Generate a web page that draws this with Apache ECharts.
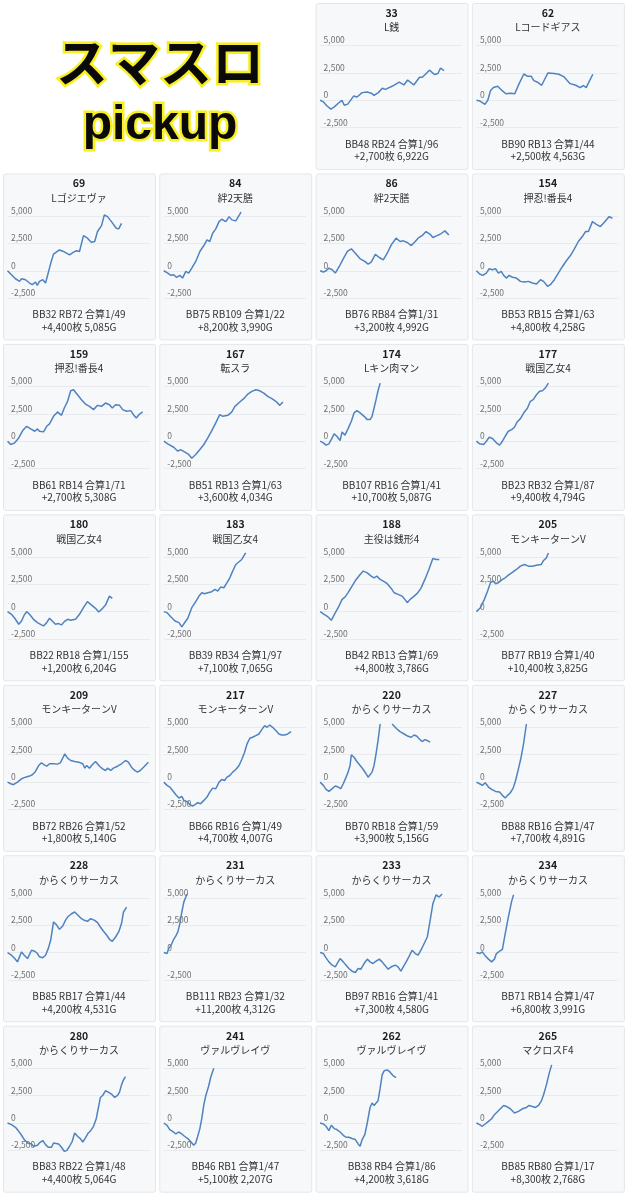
<!DOCTYPE html>
<html><head><meta charset="utf-8">
<script src="https://cdn.jsdelivr.net/npm/echarts@6/dist/echarts.min.js"></script>
<style>html,body{margin:0;padding:0;background:#fff}#c{width:627px;height:1200px}</style>
</head><body><div id="c"></div>
<script>
// ---- data ----
const panelIds   = ['33','62','69','84','86','154','159','167','174','177','180','183','188','205','209','217','220','227','228','231','233','234','280','241','262','265'];
const panelNames = ['L銭','Lコードギアス','Lゴジエヴァ','絆2天膳','絆2天膳','押忍!番長4','押忍!番長4','転スラ','Lキン肉マン','戦国乙女4','戦国乙女4','戦国乙女4','主役は銭形4','モンキーターンV','モンキーターンV','モンキーターンV','からくりサーカス','からくりサーカス','からくりサーカス','からくりサーカス','からくりサーカス','からくりサーカス','からくりサーカス','ヴァルヴレイヴ','ヴァルヴレイヴ','マクロスF4'];
const panelBonus = ['BB48 RB24 合算1/96','BB90 RB13 合算1/44','BB32 RB72 合算1/49','BB75 RB109 合算1/22','BB76 RB84 合算1/31','BB53 RB15 合算1/63','BB61 RB14 合算1/71','BB51 RB13 合算1/63','BB107 RB16 合算1/41','BB23 RB32 合算1/87','BB22 RB18 合算1/155','BB39 RB34 合算1/97','BB42 RB13 合算1/69','BB77 RB19 合算1/40','BB72 RB26 合算1/52','BB66 RB16 合算1/49','BB70 RB18 合算1/59','BB88 RB16 合算1/47','BB85 RB17 合算1/44','BB111 RB23 合算1/32','BB97 RB16 合算1/41','BB71 RB14 合算1/47','BB83 RB22 合算1/48','BB46 RB1 合算1/47','BB38 RB4 合算1/86','BB85 RB80 合算1/17'];
const panelResult = ['+2,700枚 6,922G','+2,500枚 4,563G','+4,400枚 5,085G','+8,200枚 3,990G','+3,200枚 4,992G','+4,800枚 4,258G','+2,700枚 5,308G','+3,600枚 4,034G','+10,700枚 5,087G','+9,400枚 4,794G','+1,200枚 6,204G','+7,100枚 7,065G','+4,800枚 3,786G','+10,400枚 3,825G','+1,800枚 5,140G','+4,700枚 4,007G','+3,900枚 5,156G','+7,700枚 4,891G','+4,200枚 4,531G','+11,200枚 4,312G','+7,300枚 4,580G','+6,800枚 3,991G','+4,400枚 5,064G','+5,100枚 2,207G','+4,200枚 3,618G','+8,300枚 2,768G'];
const yTicks = [-2500, 0, 2500, 5000];

// [progress %, 差枚]
const s33 = [[0,0],[2.4,-150],[4.7,-500],[7.6,-800],[10,-600],[13,-250],[15.4,0],[17,-450],[19.5,-350],[23.7,400],[26,300],[29.6,700],[33,750],[36,650],[38,450],[41,700],[43.8,1100],[46,1000],[51,1300],[55.7,1650],[59,1400],[61.6,1850],[66,1400],[70,2100],[72,2100],[77,2750],[80.6,2350],[83,2450],[84.8,2950],[87.2,2700]];
const s62 = [[0,0],[2.3,-60],[3.7,0],[6,-370],[8,0],[10,900],[12,1160],[15,1280],[18,900],[20.7,600],[24,650],[27,600],[30,1500],[33.4,2400],[35.7,2200],[38.5,2200],[40.5,1800],[43,1650],[46,1370],[48,1900],[50.4,2500],[54.7,2450],[58,2380],[61.8,2130],[66,1520],[70,1370],[73,1160],[75.4,1350],[77.3,1160],[82,2380]];
const s69 = [[0,0],[2.8,-360],[5.6,-730],[8.5,-970],[9.9,-730],[12.7,-820],[15.5,-1120],[17.5,-1270],[19.7,-1030],[21,-1330],[22.5,-970],[24.8,-820],[26.8,-1120],[30.5,700],[32.4,1520],[36.6,1900],[39.4,1760],[43.7,1450],[46.5,1700],[48.7,1820],[50.7,1760],[53.5,3200],[56.3,2970],[59,2600],[61.4,2670],[63.4,3580],[66.2,4120],[68.2,5090],[70.4,4940],[73.2,4480],[76.6,3880],[78.3,3820],[80.3,4330]];
const s84 = [[0,0],[2.8,-210],[5,-420],[7,-360],[9,-600],[11.3,-420],[13.2,-670],[15.5,-60],[17.5,-210],[19.7,240],[22.5,850],[25.4,1760],[28.2,2300],[30.4,2820],[32.4,2670],[34.4,3420],[36.6,3820],[38.9,4480],[40.8,4700],[43.7,4480],[46,4940],[47.9,4640],[50.7,4550],[54.4,5350]];
const s86 = [[0,0],[2.3,-120],[4.2,0],[6.2,240],[8.5,90],[10.7,-210],[13.5,390],[16.3,1090],[19.2,1760],[22,2000],[24.8,1600],[28.2,1090],[31.5,850],[33.8,600],[36,780],[38.9,1500],[41.7,1210],[44.5,1000],[47.3,1600],[50.1,2360],[53.5,2970],[56.3,2670],[58.6,2730],[61.4,2580],[64.2,2300],[67,2670],[69,2970],[71.8,3200],[74.6,3580],[77.5,3330],[79.4,3030],[82.3,3200],[84.5,3330],[87.9,3640],[90.7,3270]];
const s154 = [[0,0],[2.3,-300],[4.5,-420],[7,-210],[9,180],[11.3,90],[13.5,180],[15.5,-210],[17.5,-60],[19.2,-420],[21.1,-670],[23.1,-420],[25.4,-600],[28.2,-670],[31,-970],[33.8,-1030],[36.6,-970],[39.4,-1120],[42.3,-1210],[45.1,-820],[47.3,-970],[50.1,-1420],[52.1,-1270],[54.9,-820],[57.7,-210],[60.6,390],[63.4,910],[66.2,1390],[69,2000],[71.8,2670],[74.6,3120],[76.9,3580],[78.9,3580],[81.7,4480],[84.5,4240],[87.3,4030],[90.1,4420],[93.5,4940],[95.8,4790]];
const s159 = [[0,0],[2.3,-300],[5.1,-150],[7.9,300],[10.7,970],[13.5,1360],[16.3,1120],[19.2,910],[21.1,1120],[22.5,910],[25.4,850],[27.6,1360],[29.6,1580],[32.4,2270],[35.2,2670],[38,2360],[40,3030],[42.3,3640],[44.5,4600],[46.5,4700],[49.3,4240],[52.1,3790],[54.9,3390],[57.7,3180],[60.6,2880],[63.4,3270],[66.2,3180],[69,3480],[71.8,3330],[73.8,3030],[76.1,3330],[78.9,3270],[81.1,2880],[83.9,2730],[86.8,2790],[88.7,2420],[90.7,2120],[93,2480],[95.2,2670]];
const s167 = [[0,0],[2.8,-240],[7,-550],[9.9,-910],[11.8,-760],[14.6,-970],[17.5,-1210],[19.7,-1550],[22.5,-1210],[25.4,-760],[28.2,-300],[31,300],[33.8,970],[36.6,1670],[39.4,2420],[41.7,2270],[45.1,2360],[47.9,2670],[50.1,3180],[53.5,3580],[56.3,3880],[59.2,4300],[62,4550],[64.8,4700],[67.6,4600],[70.4,4390],[73.2,4090],[76.1,3880],[78.9,3640],[81.7,3270],[83.9,3580]];
const s174 = [[0,0],[2.3,-150],[4.2,-360],[6.2,-240],[8.5,300],[9.9,670],[11.8,450],[14.1,60],[15.5,850],[17.5,550],[19.7,1150],[22,1820],[23.9,2580],[25.9,2790],[28.2,2580],[31,2270],[33.2,1970],[35.2,1970],[36.6,2270],[38,3030],[39.4,3790],[40.8,4600],[42.3,5300]];
const s177 = [[0,0],[2.3,-240],[5.1,-300],[7,0],[9,360],[11.3,240],[14.1,-150],[16.3,-360],[18.3,0],[20.3,450],[22.5,910],[24.8,1060],[26.8,1270],[28.7,1760],[31,2060],[33.8,2670],[36,3030],[38,3640],[40,3790],[42.3,4240],[44.5,4550],[46.5,4600],[48.5,4850],[50.7,5300]];
const s180 = [[0,0],[2.8,-240],[5.1,-600],[7.9,-1150],[9.9,-850],[11.8,-300],[13.5,0],[15.5,-240],[18.3,-700],[21.1,-1000],[23.9,-1210],[25.4,-1300],[27.6,-1000],[29.6,-600],[31.5,-850],[33.8,-1150],[36,-1090],[38,-1210],[40,-910],[42.3,-700],[44.5,-790],[47.9,-700],[49.3,-600],[50.7,-240],[53.5,360],[56.3,910],[59.2,600],[62,300],[64.2,-30],[67,300],[69,600],[71.8,1420],[73.8,1210]];
const s183 = [[0,0],[2.3,-90],[5.1,-480],[7.9,-850],[10.7,-1000],[12.7,-1390],[14.1,-1300],[15.5,-850],[16.9,-600],[18.3,-480],[19.7,360],[22.5,910],[24.8,1420],[26.8,1730],[28.7,1640],[31,1730],[33.8,1820],[36,2030],[38,1880],[40,2240],[42.3,2180],[44.5,2640],[46.5,3090],[48.5,3700],[50.7,4300],[53,4550],[54.9,4760],[56.9,5210],[57.7,5350]];
const s188 = [[0,0],[2.8,-240],[5.6,-480],[7.9,-790],[9.9,-300],[12.7,360],[15.5,1120],[17.5,1330],[19.7,1730],[22.5,2330],[25.4,2940],[28.2,3390],[30.4,3700],[33.2,3540],[36,3240],[38,3090],[40,3240],[42.3,2940],[44.5,2790],[47.3,2550],[50.1,2120],[52.1,1730],[54.9,1580],[57.7,1420],[59.7,1120],[61.4,820],[63.4,1120],[65.4,1330],[68.2,1640],[71,2120],[73.8,2940],[76.6,3850],[79.4,4850],[81.7,4760],[83.9,4760]];
const s205 = [[0,0],[2.8,360],[5.6,1120],[7.9,1880],[9.9,2640],[11.8,2790],[13.5,2550],[15.5,2640],[18.3,2940],[20.3,3090],[22.5,3330],[24.8,3540],[28.2,3850],[31,4150],[33.8,4300],[36.6,4150],[39.4,4150],[42.3,4240],[43.7,4150],[45.6,4300],[47.3,4670],[49.3,4910],[50.7,5350]];
const s209 = [[0,0],[2.3,-150],[4.2,-240],[7,0],[9.9,300],[12.7,450],[15.5,550],[17.5,670],[19.7,970],[22,1520],[23.9,1760],[25.9,1580],[27.6,1450],[29.6,1670],[32.4,1670],[35.2,1640],[37.2,1760],[38.9,2180],[40.3,2580],[42.3,2180],[44.5,1970],[47.3,1880],[50.1,1820],[53,1670],[54.4,1270],[55.8,1520],[57.7,1270],[59.7,1580],[62,1880],[63.4,1730],[64.8,1450],[67,1210],[69,1060],[70.4,1270],[72.7,1060],[74.6,1270],[77.5,1450],[80.3,1670],[83.1,1970],[85.1,1820],[87.3,1360],[89.6,1060],[91.5,910],[93.5,1060],[95.8,1360],[99.2,1820]];
const s217 = [[0,0],[2.3,-300],[4.2,-450],[6.2,-760],[8.5,-1150],[10.7,-1450],[12.7,-1300],[14.1,-1670],[15.5,-1500],[16.9,-1820],[18.3,-2060],[20.3,-2180],[22,-2060],[23.9,-1880],[25.9,-1970],[28.2,-1670],[30.4,-1360],[32.4,-910],[34.4,-550],[36.6,-610],[38.9,0],[40.8,240],[42.8,150],[44.5,450],[46.5,600],[48.5,910],[50.7,1150],[53,1520],[54.9,2060],[56.9,2730],[58.6,3480],[60.6,4000],[62.5,4090],[64.8,4240],[67,4390],[69,4790],[71,5150],[72.7,5000],[74.6,5210],[76.6,5000],[78.9,4700],[81.1,4390],[83.1,4300],[85.1,4300],[87.3,4390],[89.6,4600]];
const s220 = [[0,0],[2.3,-300],[4.2,-670],[6.2,-850],[8.5,-600],[10.7,-360],[12.7,-450],[14.6,-600],[16.3,-150],[18.3,450],[19.7,910],[21.1,1520],[22,2480],[23.9,2270],[25.9,1880],[28.2,1520],[30.4,1150],[32.4,760],[33.8,450],[35.2,520],[36.6,910],[38,1520],[39.4,2580],[40.8,3790],[42.3,5300],[46.5,null],[50.7,5300],[52.1,5150],[54.1,4850],[56.3,4600],[59.2,4390],[62,4180],[64.2,4090],[66.2,4300],[68.2,4180],[69.9,3940],[71.8,3700],[73.8,3880],[75.5,3790],[77.5,3640]];
const s227 = [[0,0],[2.3,-150],[4.2,-300],[6.2,-60],[8.5,-450],[10.7,-670],[13.5,-850],[16.3,-910],[18.3,-1210],[20.3,-1450],[22,-1210],[23.9,-970],[25.9,-550],[27.6,150],[29.6,1210],[31.5,2270],[33.2,3480],[35.2,5300]];
const s228 = [[0,0],[2.3,-180],[5.1,-550],[7,-850],[9.9,60],[11.8,-240],[14.1,-550],[16.9,210],[19.2,120],[21.1,-90],[22.5,-390],[24.8,-480],[26.8,-240],[28.7,360],[30.4,1120],[32.4,2790],[34.4,2550],[36.6,2120],[38.9,2420],[40.8,2940],[42.3,3240],[45.1,3540],[47.3,3700],[49.3,3450],[52.1,3090],[54.1,2940],[56.3,2850],[58.6,3090],[61.4,2940],[63.4,2730],[65.4,2330],[67.6,1940],[69.9,1580],[71.8,1210],[73.8,1030],[76.1,1420],[78.3,1880],[80.3,2640],[81.7,3700],[83.9,4150]];
const s231 = [[0,0],[2.3,-90],[3.4,360],[5.1,670],[7,1210],[8.5,1520],[9.9,1880],[11.3,2640],[12.7,3700],[14.1,4600],[15.5,5060],[16.3,5350]];
const s233 = [[0,0],[2.3,-90],[4.2,-480],[6.2,-850],[8.5,-1150],[10.7,-1300],[12.7,-850],[14.1,-550],[16.3,-850],[18.3,-1150],[20.3,-1450],[22.5,-1700],[24.8,-1820],[26.8,-1450],[28.7,-1520],[31,-1000],[33.2,-600],[35.2,-850],[37.2,-1000],[39.4,-790],[41.7,-600],[43.7,-850],[45.6,-1150],[47.9,-1520],[50.1,-1300],[53,-1150],[54.9,-1300],[56.9,-1700],[58.6,-1300],[60.6,-850],[62.5,-390],[64.8,210],[67,-90],[69,-240],[71,210],[72.7,670],[75.5,1420],[77.5,2940],[79.4,4450],[81.7,5270],[83.9,5060],[85.9,5350]];
const s234 = [[0,0],[2.3,-90],[4.2,60],[6.2,-300],[8.5,-600],[10.7,-850],[12.7,-600],[14.1,-90],[16.3,120],[18.3,300],[20.3,1730],[22.5,3240],[24.8,4670],[26.2,5270]];
const s280 = [[0,0],[2.8,-150],[5.6,-390],[7.9,-760],[9.9,-1120],[11.8,-1510],[14.1,-1820],[15.5,-1670],[16.9,-1910],[18.3,-2120],[19.7,-2270],[21.1,-2030],[22.5,-1820],[24.8,-1600],[26.8,-1970],[28.7,-2210],[31,-2210],[32.4,-1820],[33.8,-1670],[36,-1910],[38,-2210],[40,-2580],[41.7,-2520],[43.7,-2120],[45.6,-1670],[47.3,-910],[49.3,-1210],[51.3,-1420],[53,-1730],[54.9,-1360],[56.9,-910],[58.6,-700],[60.6,-300],[62.5,390],[64.2,1510],[65.4,2330],[67,2510],[69,2940],[71,2820],[73.2,2640],[75.5,2330],[77.5,2510],[78.9,2820],[80.3,3480],[81.7,3940],[83.1,4240]];
const s241 = [[0,0],[2.3,-210],[4.2,-600],[6.2,-760],[8.5,-1000],[10.4,-820],[12.7,-1000],[14.6,-1210],[16.9,-1420],[19.2,-1730],[21.1,-2030],[22.5,-1820],[23.9,-1210],[25.4,-510],[26.8,450],[28.2,1670],[29.6,2510],[31.5,3330],[33.2,4240],[35.2,5000]];
const s262 = [[0,0],[2.3,-90],[4.2,-300],[6.2,-700],[7.9,-210],[9.9,-510],[11.8,-600],[14.1,-820],[16.3,-1120],[18.3,-1300],[20.3,-1300],[22.5,-1420],[24.8,-1510],[26.8,-1910],[28.2,-2120],[29.6,-1510],[31.5,-1060],[33.2,0],[35.2,1420],[36.6,1820],[38,1600],[39.4,1700],[40.8,2030],[42.3,3180],[43.7,4390],[45.1,4760],[47.3,4850],[49.3,4640],[51.3,4330],[53.5,4150]];
const s265 = [[0,0],[2.3,-150],[4.2,-300],[6.2,-90],[8.5,150],[10.7,390],[12.7,760],[14.6,1000],[16.9,1300],[19.2,1600],[21.1,1510],[23.9,1300],[26.8,910],[29.6,1060],[32.4,1300],[35.2,1420],[37.2,1600],[39.4,1510],[41.7,1420],[43.7,1600],[45.6,1970],[47.3,2580],[49.3,3480],[51.3,4550],[53,5300]];
const panelSeries = [s33,s62,s69,s84,s86,s154,s159,s167,s174,s177,s180,s183,s188,s205,s209,s217,s220,s227,s228,s231,s233,s234,s280,s241,s262,s265];

// ---- layout ----
const FONT = '"Noto Sans CJK JP","Noto Sans",Roboto,sans-serif';
const PW = 152, PH = 166;
const colX = c => 3 + c * 156.3;
const rowY = r => 3 + r * 170.45;
const slots = [[0,2],[0,3]];
for (let r = 1; r <= 6; r++) for (let c = 0; c < 4; c++) slots.push([r, c]);

const grids = [], xAxes = [], yAxes = [], series = [], graphics = [];

// headline
const glow = {fill:'#f8ef22', stroke:'#f8ef22', lineWidth:5, shadowBlur:5, shadowColor:'rgba(245,235,0,0.9)'};
const center = {textAlign:'center', textVerticalAlign:'middle', verticalAlign:'middle'};
graphics.push(
  {type:'text', x:160, y:62, z:5, style:Object.assign({text:'スマスロ', font:'bold 52px "Noto Sans CJK JP"'}, glow, center)},
  {type:'text', x:160, y:62, z:6, style:Object.assign({text:'スマスロ', font:'bold 52px "Noto Sans CJK JP"', fill:'#0a0a0a'}, center)},
  {type:'text', x:160, y:126, z:5, style:Object.assign({text:'pickup', font:'bold 48px "Liberation Sans",Arial,sans-serif'}, glow, center)},
  {type:'text', x:160, y:126, z:6, style:Object.assign({text:'pickup', font:'bold 48px "Liberation Sans",Arial,sans-serif', fill:'#0a0a0a'}, center)}
);

panelIds.forEach((id, i) => {
  const [r, c] = slots[i];
  const px = colX(c), py = rowY(r), cx = px + PW / 2;
  graphics.push({type:'rect', z:-10, shape:{x:px + 0.5, y:py + 0.5, width:PW, height:PH, r:2}, style:{fill:'#f7f8fa', stroke:'#e4e6ea', lineWidth:1}});
  const t = (text, y, font, fill) => graphics.push({type:'text', x:cx, y:py + y, z:5, style:Object.assign({text, font, fill}, center)});
  t(id, 10, 'bold 10.5px ' + FONT, '#1e1e1e');
  t(panelNames[i], 24.5, '10px ' + FONT, '#333');
  t(panelBonus[i], 141, '10px ' + FONT, '#333');
  t(panelResult[i], 153.5, '10px ' + FONT, '#333');

  grids.push({left:px + 4.5, top:py + 42.5, width:142, height:82.2, containLabel:false});
  xAxes.push({type:'value', gridIndex:i, min:0, max:100, show:false});
  yAxes.push({type:'value', gridIndex:i, min:yTicks[0], max:yTicks[yTicks.length - 1], interval:2500,
    axisLine:{show:false}, axisTick:{show:false},
    splitLine:{show:true, lineStyle:{color:'#e8eaed', width:1}},
    axisLabel:{inside:true, margin:3.5, verticalAlign:'bottom', padding:[0,0,1,0], color:'#707070', fontSize:8.5, fontFamily:FONT,
      formatter: v => v.toLocaleString('en-US')}});
  series.push({type:'line', xAxisIndex:i, yAxisIndex:i, data:panelSeries[i], showSymbol:false, symbol:'none', clip:false,
    connectNulls:false, silent:true, lineStyle:{color:'#4f83c0', width:1.5}, z:3});
});

const chart = echarts.init(document.getElementById('c'), null, {renderer:'canvas'});
chart.setOption({animation:false, backgroundColor:'#ffffff', grid:grids, xAxis:xAxes, yAxis:yAxes, series, graphic:graphics});
</script></body></html>
